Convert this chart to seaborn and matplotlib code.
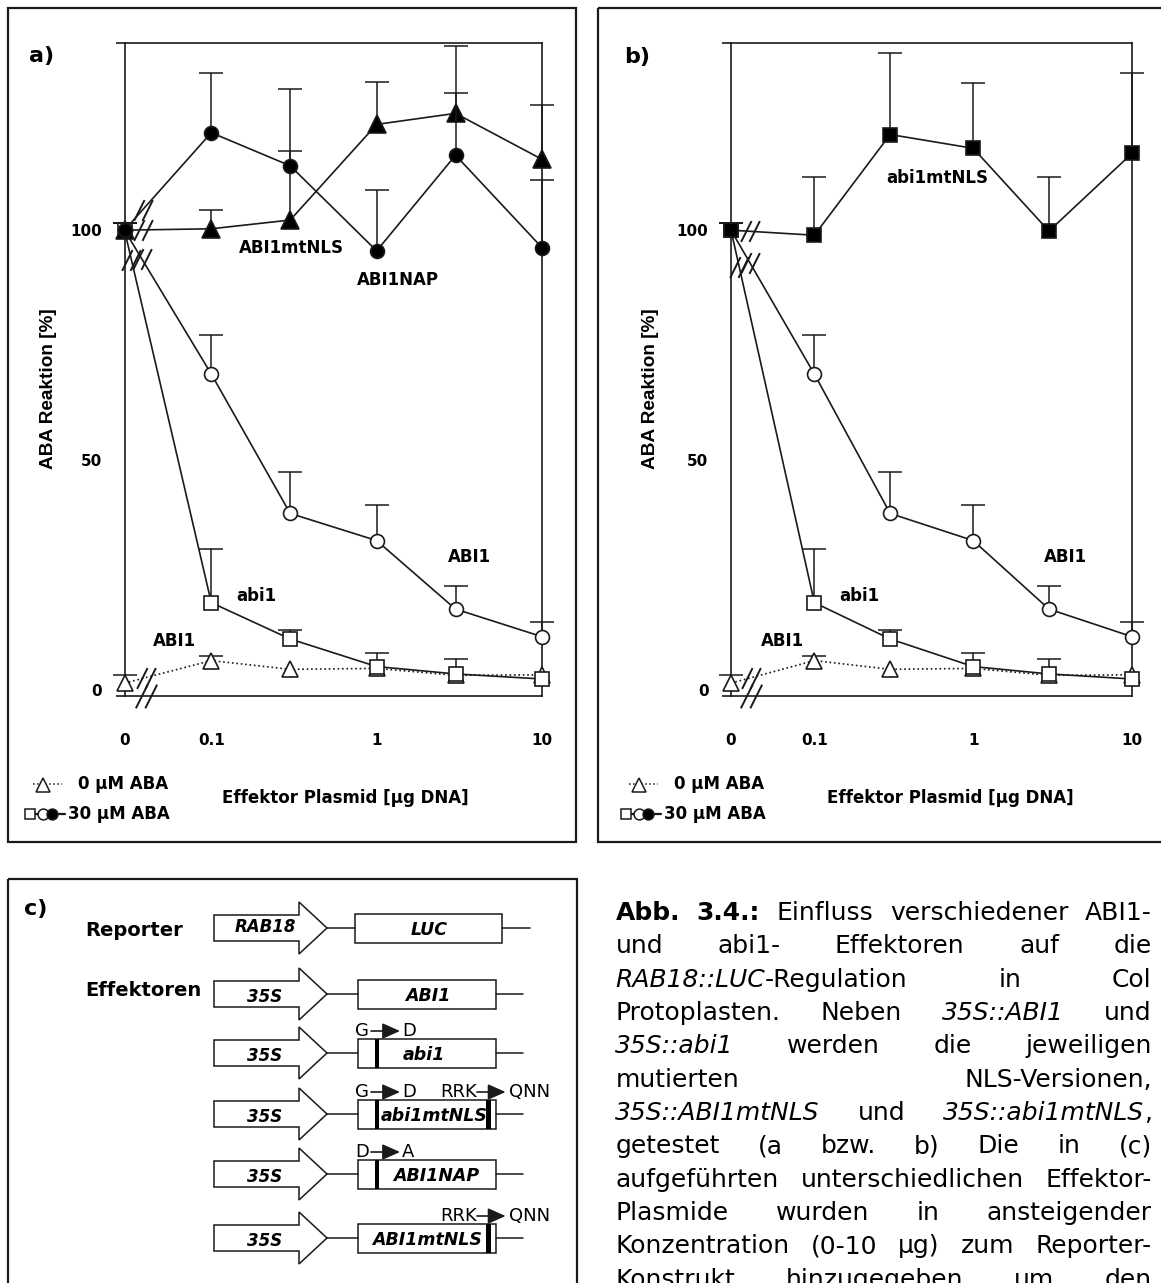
import re
import numpy as np
import matplotlib
matplotlib.use("Agg")
import matplotlib.pyplot as plt
import seaborn as sns
from matplotlib.path import Path
from matplotlib.patches import Rectangle, Polygon

# ---------------- data ----------------
doses = [0, 0.1, 0.3, 1, 3, 10]
tick_values = [0, 0.1, 1, 10]
tick_labels = ["0", "0.1", "1", "10"]
yticks = [0, 50, 100]

# panel a (30 uM ABA): mutated ABI1 effectors
abi1nap = [100, 121.2, 114.0, 95.5, 116.3, 96.2]
abi1nap_err = [1.5, 13.0, 16.6, 13.2, 13.5, 14.7]
abi1mtnls = [100, 100.3, 102.2, 123.0, 125.4, 115.4]
abi1mtnls_err = [1.5, 4.0, 15.0, 9.2, 14.7, 11.8]

# shared by both panels
ABI1_30 = [100, 68.7, 38.4, 32.5, 17.6, 11.6]
ABI1_30_err = [1.5, 8.6, 9.1, 7.7, 5.1, 3.1]
abi1_30 = [100, 19.0, 11.1, 5.1, 3.5, 2.4]
abi1_30_err = [1.5, 11.7, 1.9, 3.0, 3.2, 0.0]
ABI1_0 = [1.5, 6.4, 4.5, 4.7, 3.2, 3.3]
ABI1_0_err = [1.8, 1.0, 0.0, 0.0, 0.0, 0.0]

# panel b (30 uM ABA): abi1mtNLS
abi1mtnls_b = [100, 98.9, 120.8, 117.8, 99.8, 116.7]
abi1mtnls_b_err = [1.5, 12.6, 17.8, 14.2, 11.7, 17.5]

# panel c: constructs
promoters = ["RAB18", "35S", "35S", "35S", "35S", "35S"]
genes = ["LUC", "ABI1", "abi1", "abi1mtNLS", "ABI1NAP", "ABI1mtNLS"]
left_mut = [None, None, ("G", "D"), ("G", "D"), ("D", "A"), None]
right_mut = [None, None, None, ("RRK", "QNN"), None, ("RRK", "QNN")]

caption_lines = [
    "**Abb.** **3.4.:** Einfluss verschiedener ABI1-",
    "und abi1- Effektoren auf die",
    "*RAB18::LUC*-Regulation in Col",
    "Protoplasten. Neben *35S::ABI1* und",
    "*35S::abi1* werden die jeweiligen",
    "mutierten NLS-Versionen,",
    "*35S::ABI1mtNLS* und *35S::abi1mtNLS*,",
    "getestet (a bzw. b) Die in (c)",
    "aufgeführten unterschiedlichen Effektor-",
    "Plasmide wurden in ansteigender",
    "Konzentration (0-10 µg) zum Reporter-",
    "Konstrukt hinzugegeben um den",
]

# ---------------- style ----------------
sns.set_theme(style="white")
plt.rcParams["font.family"] = ["DejaVu Sans"]
for k in ["text.color", "axes.labelcolor", "xtick.color", "ytick.color", "axes.edgecolor"]:
    plt.rcParams[k] = "black"

W, H = 1161, 1283
fig = plt.figure(figsize=(W / 100, H / 100), dpi=100)
fig.patch.set_facecolor("white")

ZERO_POS = -1.525
YMIN, YMAX = -1.3, 140.7


def xmap(d):
    return np.log10(d) if d > 0 else ZERO_POS


xpos = np.array([xmap(d) for d in doses])


def px_axes(l, r, t, b):
    return fig.add_axes([l / W, 1 - b / H, (r - l) / W, (b - t) / H])


brk_path = Path([(-0.9, -1), (0.1, 1), (-0.1, -1), (0.9, 1)],
                [Path.MOVETO, Path.LINETO, Path.MOVETO, Path.LINETO])


def style_axes(ax, wpx, ylab_x):
    ax.set_xlim(ZERO_POS, 1.0)
    ax.set_ylim(YMIN, YMAX)
    ax.set_xticks([xmap(v) for v in tick_values])
    ax.set_xticklabels(tick_labels)
    ax.set_yticks(yticks)
    ax.set_yticklabels([str(v) for v in yticks])
    ax.tick_params(axis="x", direction="out", length=7.2, width=1.1, pad=19.5, labelsize=11)
    ax.tick_params(axis="y", direction="out", length=6.5, width=1.1, pad=9.7, labelsize=11)
    for lbl in ax.get_xticklabels() + ax.get_yticklabels():
        lbl.set_fontweight("bold")
    for sp in ax.spines.values():
        sp.set_visible(True)
        sp.set_linewidth(1.2)
        sp.set_color("k")
    ax.grid(False)
    ext = 9.0 / wpx
    for yy in (0, 1):
        ax.plot([-ext, 0], [yy, yy], transform=ax.transAxes, color="k", lw=1.2,
                clip_on=False, solid_capstyle="butt")
    ax.set_xlabel("Effektor Plasmid [µg DNA]", fontsize=12, fontweight="bold")
    ax.set_ylabel("ABA Reaktion [%]", fontsize=13.7, fontweight="bold",
                  family=["Liberation Sans", "DejaVu Sans"])
    ax.yaxis.set_label_coords(ylab_x, 0.47)


def draw_series(ax, vals, errs, marker, ms, mfc, ls="-", z=3, brk=None):
    y = np.array(vals, dtype=float)
    e = np.array(errs, dtype=float)
    m = e > 0
    if m.any():
        eb = ax.errorbar(xpos[m], y[m], yerr=[np.zeros(m.sum()), e[m]], fmt="none",
                         ecolor="k", elinewidth=1.1, capsize=8.5, capthick=1.1,
                         zorder=z - 0.5)
        for cl in eb.lines[1]:
            cl.set_clip_on(False)
            if np.allclose(cl.get_ydata(), y[m]):
                cl.set_visible(False)
        for coll in eb.lines[2]:
            coll.set_clip_on(False)
    sns.lineplot(x=xpos, y=y, ax=ax, color="k", linestyle=ls, linewidth=1.2,
                 marker=marker, markersize=ms, markerfacecolor=mfc,
                 markeredgecolor="k", markeredgewidth=1.2, clip_on=False,
                 zorder=z, legend=False, sort=False, errorbar=None)
    if brk is not None:
        bx = xpos[0] + brk * (xpos[1] - xpos[0])
        by = y[0] + brk * (y[1] - y[0])
        ax.plot([bx], [by], marker=brk_path, markersize=15, mec="k", mfc="none",
                mew=1.4, ls="none", clip_on=False, zorder=z + 2)


def axis_break(ax, frac):
    bx = xpos[0] + frac * (xpos[1] - xpos[0])
    ax.plot([bx], [YMIN], marker=brk_path, markersize=17, mec="k", mfc="none",
            mew=1.4, ls="none", clip_on=False, zorder=6)


# ---------------- panel a ----------------
axA = px_axes(124.5, 542, 43, 696)
draw_series(axA, ABI1_0, ABI1_0_err, "^", 11, "white", ls=":", z=3, brk=0.245)
draw_series(axA, abi1_30, abi1_30_err, "s", 10, "white", z=4, brk=0.08)
draw_series(axA, ABI1_30, ABI1_30_err, "o", 10, "white", z=5, brk=0.2)
draw_series(axA, abi1mtnls, abi1mtnls_err, "^", 13, "black", z=6, brk=0.21)
draw_series(axA, abi1nap, abi1nap_err, "o", 10, "black", z=7, brk=0.21)
style_axes(axA, 417.5, -0.162)
axA.xaxis.set_label_coords(0.528, -0.142)
axis_break(axA, 0.245)

# ---------------- panel b ----------------
axB = px_axes(731, 1132, 43, 696)
draw_series(axB, ABI1_0, ABI1_0_err, "^", 11, "white", ls=":", z=3, brk=0.245)
draw_series(axB, abi1_30, abi1_30_err, "s", 10, "white", z=4, brk=0.1)
draw_series(axB, ABI1_30, ABI1_30_err, "o", 10, "white", z=5, brk=0.23)
draw_series(axB, abi1mtnls_b, abi1mtnls_b_err, "s", 10, "black", z=7, brk=0.23)
style_axes(axB, 401, -0.18)
axB.xaxis.set_label_coords(0.546, -0.142)
axis_break(axB, 0.245)

# ---------------- overlay (pixel coordinates) ----------------
ov = fig.add_axes([0, 0, 1, 1])
ov.set_xlim(0, W)
ov.set_ylim(H, 0)
ov.axis("off")
ov.patch.set_visible(False)

for (x0, y0, w, h) in [(8, 8, 567.7, 833.7), (598, 8, 620, 833.7), (8, 879, 569, 500)]:
    ov.add_patch(Rectangle((x0, y0), w, h, fill=False, ec="k", lw=1.6))

for txt, x, y in [("a)", 41.5, 56), ("b)", 637.5, 56.5), ("c)", 36, 909)]:
    ov.text(x, y, txt, fontsize=16, fontweight="bold", ha="center", va="center")

annots = [("ABI1mtNLS", 291, 248), ("ABI1NAP", 398, 280), ("ABI1", 469, 557),
          ("abi1", 256, 596), ("ABI1", 174, 641),
          ("abi1mtNLS", 937, 178), ("ABI1", 1065, 557), ("abi1", 859, 596),
          ("ABI1", 782, 641)]
for txt, x, y in annots:
    ov.text(x, y, txt, fontsize=12, fontweight="bold", ha="center", va="center")

# legends
for dx in (0, 596):
    ov.plot([33 + dx, 62 + dx], [784, 784], ls=":", color="k", lw=1.1)
    ov.plot([43.3 + dx], [785], marker="^", ms=9.5, mfc="white", mec="k", mew=1.1)
    ov.text(78 + dx, 784, "0 µM ABA", fontsize=12, fontweight="bold", ha="left", va="center")
    ov.plot([30 + dx, 64.5 + dx], [814, 814], ls="-", color="k", lw=1.6)
    ov.plot([30.3 + dx], [814], marker="s", ms=7, mfc="white", mec="k", mew=1.1)
    ov.plot([43.3 + dx], [814], marker="o", ms=7.8, mfc="white", mec="k", mew=1.1)
    ov.plot([51.7 + dx], [814], marker="o", ms=7.8, mfc="black", mec="k", mew=1.1)
    ov.text(68.3 + dx, 814, "30 µM ABA", fontsize=12, fontweight="bold", ha="left", va="center")

# ---------------- panel c ----------------
ov.text(85, 931, "Reporter", fontsize=14, fontweight="bold", ha="left", va="center")
ov.text(85, 990, "Effektoren", fontsize=14, fontweight="bold", ha="left", va="center")

row_y = [928, 994, 1053, 1114, 1174, 1238]
gene_x = [429, 427.5, 424, 434, 435.7, 427.5]
LW = 1.1
for i, yc in enumerate(row_y):
    x0, xb, xt = 214, 299, 327
    hb, hh = 13, 26
    pts = [(x0, yc - hb), (xb, yc - hb), (xb, yc - hh), (xt, yc),
           (xb, yc + hh), (xb, yc + hb), (x0, yc + hb)]
    ov.add_patch(Polygon(pts, closed=True, fc="white", ec="k", lw=LW))
    py = yc - 1 if i == 0 else yc + 3
    ov.text(265, py, promoters[i], fontsize=12, fontweight="bold", style="italic",
            ha="center", va="center")
    if i == 0:
        bl, br, bend = 355, 502, 530
    else:
        bl, br, bend = 358, 495.5, 523
    ov.plot([xt, bl], [yc, yc], color="k", lw=LW)
    ov.plot([br, bend], [yc, yc], color="k", lw=LW)
    ov.add_patch(Rectangle((bl, yc - 14.5), br - bl, 29, fc="white", ec="k", lw=LW))
    ov.text(gene_x[i], yc + 2, genes[i], fontsize=12.5, fontweight="bold", style="italic",
            ha="center", va="center")
    ly = yc - 22
    if left_mut[i]:
        ov.add_patch(Rectangle((374.5, yc - 14.5), 4.5, 29, fc="black", ec="none"))
        a, b = left_mut[i]
        ov.text(369, ly, a, fontsize=13, ha="right", va="center")
        ov.annotate("", xy=(400, ly), xytext=(371, ly),
                    arrowprops=dict(arrowstyle="-|>,head_length=0.9,head_width=0.4",
                                    mutation_scale=12, color="k", lw=1.2,
                                    shrinkA=0, shrinkB=0))
        ov.text(402, ly, b, fontsize=13, ha="left", va="center")
    if right_mut[i]:
        ov.add_patch(Rectangle((486, yc - 14.5), 5, 29, fc="black", ec="none"))
        a, b = right_mut[i]
        ov.text(477, ly, a, fontsize=13, ha="right", va="center")
        ov.annotate("", xy=(505.6, ly), xytext=(477, ly),
                    arrowprops=dict(arrowstyle="-|>,head_length=0.9,head_width=0.4",
                                    mutation_scale=12, color="k", lw=1.2,
                                    shrinkA=0, shrinkB=0))
        ov.text(509, ly, b, fontsize=13, ha="left", va="center")

# ---------------- caption (fully justified) ----------------
renderer = fig.canvas.get_renderer()
CAP_FS = 18
CAP_L, CAP_R = 615.4, 1151.7
STYLE = {"b": dict(fontweight="bold"), "i": dict(style="italic"), "r": {}}


def parse_word(word):
    segs = []
    for b, i, r in re.findall(r"\*\*(.+?)\*\*|\*(.+?)\*|([^*]+)", word):
        if b:
            segs.append((b, "b"))
        elif i:
            segs.append((i, "i"))
        else:
            segs.append((r, "r"))
    return segs


def seg_width(txt, st):
    t = ov.text(0, 0, txt, fontsize=CAP_FS, **STYLE[st])
    w = t.get_window_extent(renderer=renderer).width
    t.remove()
    return w


for li, line in enumerate(caption_lines):
    base = 920 + li * 33.33
    words = [parse_word(w) for w in line.split(" ")]
    widths = [[seg_width(s, st) for s, st in wd] for wd in words]
    total = sum(sum(w) for w in widths)
    gap = (CAP_R - CAP_L - total) / max(len(words) - 1, 1)
    x = CAP_L
    for wd, ws in zip(words, widths):
        for (s, st), w in zip(wd, ws):
            ov.text(x, base, s, fontsize=CAP_FS, ha="left", va="baseline", **STYLE[st])
            x += w
        x += gap

fig.savefig("out.png", dpi=100)
